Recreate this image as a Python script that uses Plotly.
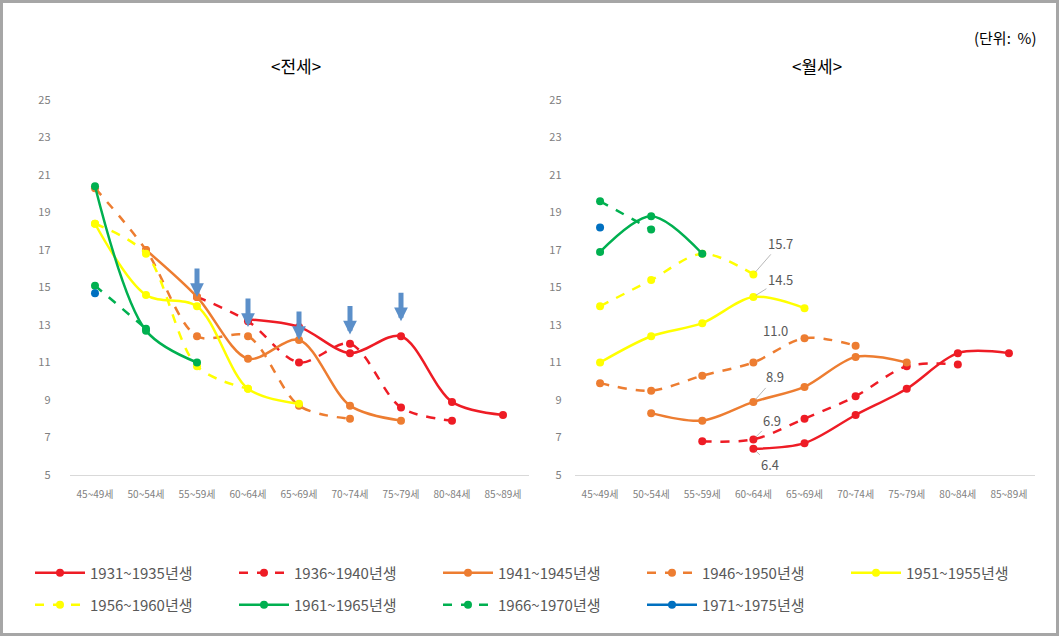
import plotly.graph_objects as go

# Age groups on the x axis
ages = ["45~49세", "50~54세", "55~59세", "60~64세", "65~69세",
        "70~74세", "75~79세", "80~84세", "85~89세"]

# Birth cohorts (legend order)
cohorts = ["1931~1935년생", "1936~1940년생", "1941~1945년생", "1946~1950년생",
           "1951~1955년생", "1956~1960년생", "1961~1965년생", "1966~1970년생",
           "1971~1975년생"]

N = None
# 전세 (jeonse) share by age group, %
jeonse_1931 = [N, N, N, 13.3, 12.9, 11.5, 12.4, 8.9, 8.2]
jeonse_1936 = [N, N, 14.5, 13.2, 11.0, 12.0, 8.6, 7.9, N]
jeonse_1941 = [N, 17.0, 14.5, 11.2, 12.2, 8.7, 7.9, N, N]
jeonse_1946 = [20.3, 17.0, 12.4, 12.4, 8.7, 8.0, N, N, N]
jeonse_1951 = [18.4, 14.6, 14.0, 9.6, 8.8, N, N, N, N]
jeonse_1956 = [18.4, 16.8, 10.8, 9.6, N, N, N, N, N]
jeonse_1961 = [20.4, 12.7, 11.0, N, N, N, N, N, N]
jeonse_1966 = [15.1, 12.8, N, N, N, N, N, N, N]
jeonse_1971 = [14.7, N, N, N, N, N, N, N, N]

# 월세 (monthly rent) share by age group, %
wolse_1931 = [N, N, N, 6.4, 6.7, 8.2, 9.6, 11.5, 11.5]
wolse_1936 = [N, N, 6.8, 6.9, 8.0, 9.2, 10.8, 10.9, N]
wolse_1941 = [N, 8.3, 7.9, 8.9, 9.7, 11.3, 11.0, N, N]
wolse_1946 = [9.9, 9.5, 10.3, 11.0, 12.3, 11.9, N, N, N]
wolse_1951 = [11.0, 12.4, 13.1, 14.5, 13.9, N, N, N, N]
wolse_1956 = [14.0, 15.4, 16.8, 15.7, N, N, N, N, N]
wolse_1961 = [16.9, 18.8, 16.8, N, N, N, N, N, N]
wolse_1966 = [19.6, 18.1, N, N, N, N, N, N, N]
wolse_1971 = [18.2, N, N, N, N, N, N, N, N]

jeonse = [jeonse_1931, jeonse_1936, jeonse_1941, jeonse_1946, jeonse_1951,
          jeonse_1956, jeonse_1961, jeonse_1966, jeonse_1971]
wolse = [wolse_1931, wolse_1936, wolse_1941, wolse_1946, wolse_1951,
         wolse_1956, wolse_1961, wolse_1966, wolse_1971]

# Labelled points on the 월세 panel: (age group, cohort index, label offset px)
wolse_labels = [("60~64세", 5, 27, -31), ("60~64세", 4, 27, -17),
                ("60~64세", 2, 22, -25), ("60~64세", 1, 19, -19),
                ("60~64세", 0, 17, 16)]

# Arrows on the 전세 panel: age group and the value the arrow tip points to
arrow_ages = ["55~59세", "60~64세", "65~69세", "70~74세", "75~79세"]
arrow_tips = [14.5, 12.9, 12.2, 12.5, 13.2]

RED, ORANGE, YELLOW, GREEN, BLUE = "#EE1C25", "#ED7D31", "#FFFF00", "#00B050", "#0070C0"
colors = [RED, RED, ORANGE, ORANGE, YELLOW, YELLOW, GREEN, GREEN, BLUE]
dashes = ["solid", "dash", "solid", "dash", "solid", "dash", "solid", "dash", "solid"]

KFONT = "Noto Sans CJK KR, Noto Sans, sans-serif"
NARROW = "Liberation Sans Narrow, Noto Sans CJK KR, sans-serif"
W, H = 1060, 636

fig = go.Figure()

for i, name in enumerate(cohorts):
    legend_id = "legend" if i < 5 else "legend2"
    for vals, xa, ya, show in ((jeonse[i], "x", "y", True), (wolse[i], "x2", "y2", False)):
        xs = [a for a, v in zip(ages, vals) if v is not None]
        ys = [v for v in vals if v is not None]
        fig.add_trace(go.Scatter(
            x=xs, y=ys, name=name, mode="lines+markers",
            xaxis=xa, yaxis=ya, legend=legend_id, legendgroup=name,
            showlegend=show,
            line=dict(color=colors[i], width=2.5, dash=dashes[i],
                      shape="spline", smoothing=0.9),
            marker=dict(color=colors[i], size=8),
            hoverinfo="skip",
        ))


def paper_text(text, px, py, size):
    return dict(text=text, x=px / W, y=1 - py / H, xref="paper", yref="paper",
                xanchor="center", yanchor="middle", showarrow=False,
                font=dict(family=KFONT, size=size, color="#000000"))


annotations = [
    paper_text("&lt;전세&gt;", 296, 65, 17),
    paper_text("&lt;월세&gt;", 817, 65, 17),
    paper_text("(단위:  %)", 1005, 37, 15),
]

for age, idx, dx, dy in wolse_labels:
    val = wolse[idx][ages.index(age)]
    annotations.append(dict(
        x=age, y=val, xref="x2", yref="y2", text=f"{val:.1f}",
        showarrow=True, arrowhead=0, arrowwidth=0.8, arrowcolor="#A6A6A6",
        ax=dx, ay=dy, standoff=3,
        font=dict(family=NARROW, size=13, color="#595959"),
    ))
# the 11.0 label sits above its point without a leader line
annotations.append(dict(
    x="60~64세", y=wolse_1946[3], xref="x2", yref="y2", text=f"{wolse_1946[3]:.1f}",
    showarrow=False, xshift=22, yshift=32,
    font=dict(family=NARROW, size=13, color="#595959"),
))

for age, tip in zip(arrow_ages, arrow_tips):
    annotations.append(dict(
        x=age, y=tip, xref="x", yref="y", text="",
        showarrow=True, arrowhead=2, arrowsize=0.55, arrowwidth=5,
        arrowcolor="#5B8FC9", ax=0, ay=-30,
    ))

axis_x = dict(type="category", categoryorder="array", categoryarray=ages,
              range=[-0.5, 8.5], showline=True, linecolor="#D9D9D9", linewidth=1,
              showgrid=False, zeroline=False, ticks="",
              tickfont=dict(family=NARROW, size=10, color="#808080"),
              ticklabelstandoff=10, fixedrange=True)
axis_y = dict(range=[5, 25], tick0=5, dtick=2, showgrid=False, zeroline=False,
              showline=False, ticks="",
              tickfont=dict(family=NARROW, size=11, color="#808080"),
              fixedrange=True)

y_dom = [(H - 475) / H, (H - 100) / H]

legend_common = dict(orientation="h", xanchor="left", yanchor="middle",
                     entrywidth=139, itemwidth=50,
                     font=dict(family=KFONT, size=15, color="#595959"),
                     bgcolor="rgba(0,0,0,0)")

fig.update_layout(
    width=W, height=H,
    margin=dict(l=0, r=0, t=0, b=0, pad=0, autoexpand=False),
    paper_bgcolor="white", plot_bgcolor="white",
    xaxis=dict(axis_x, domain=[69.5 / W, 528.5 / W], anchor="y"),
    yaxis=dict(axis_y, domain=y_dom, anchor="x", ticklabelstandoff=18),
    xaxis2=dict(axis_x, domain=[574.5 / W, 1034.5 / W], anchor="y2"),
    yaxis2=dict(axis_y, domain=y_dom, anchor="x2", ticklabelstandoff=12),
    legend=dict(legend_common, x=30 / W, y=1 - 573 / H),
    legend2=dict(legend_common, x=30 / W, y=1 - 605 / H),
    annotations=annotations,
    shapes=[dict(type="rect", xref="paper", yref="paper",
                 x0=1.5 / W, y0=1.5 / H, x1=1 - 2.5 / W, y1=1 - 1.5 / H,
                 line=dict(color="#A6A6A6", width=3))],
    showlegend=True,
)

fig.write_html("out.html")
